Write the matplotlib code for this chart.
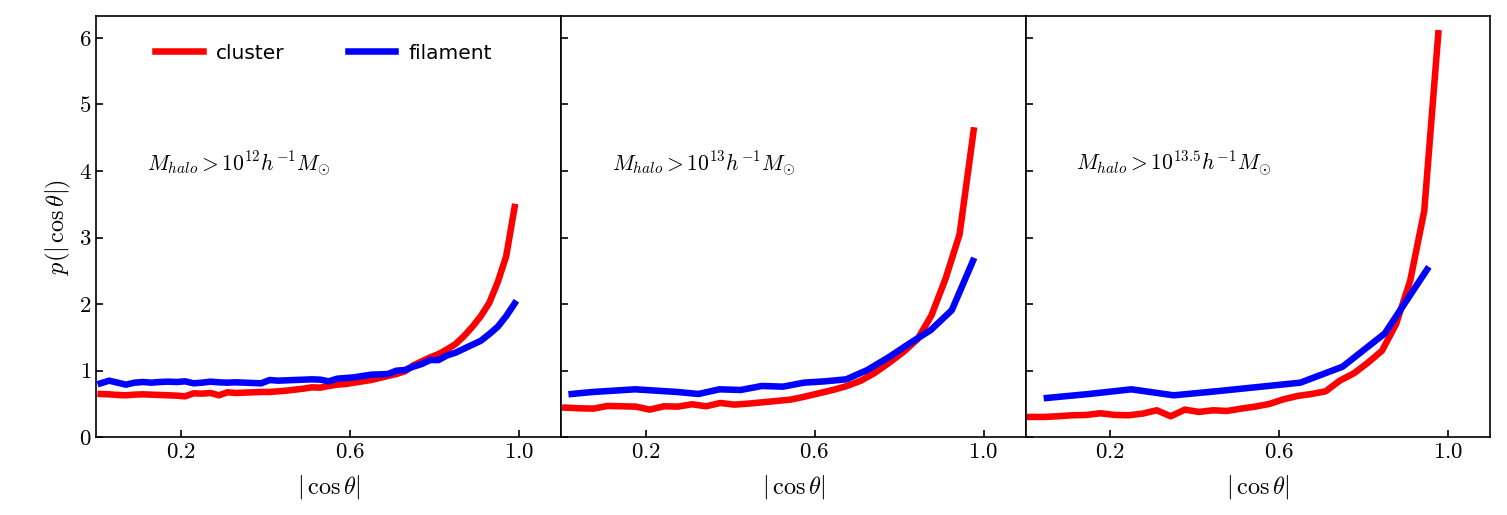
import matplotlib
matplotlib.use("Agg")
import matplotlib.pyplot as plt
import numpy as np

plt.rcParams["font.family"] = "serif"
plt.rcParams["font.serif"] = ["cmr10"]
plt.rcParams["mathtext.fontset"] = "cm"
plt.rcParams["axes.formatter.use_mathtext"] = True

# panel 1: M_halo > 10^12
x1 = np.arange(50) * 0.02 + 0.01
cluster1 = [0.65, 0.645, 0.635, 0.63, 0.64, 0.645, 0.64, 0.635, 0.63, 0.625,
            0.615, 0.66, 0.655, 0.665, 0.63, 0.675, 0.665, 0.67, 0.675, 0.68,
            0.68, 0.69, 0.70, 0.715, 0.73, 0.75, 0.745, 0.77, 0.79, 0.80,
            0.82, 0.84, 0.86, 0.89, 0.92, 0.95, 0.99, 1.08, 1.14, 1.20,
            1.25, 1.32, 1.40, 1.52, 1.66, 1.82, 2.02, 2.33, 2.72, 3.46]
filament1 = [0.81, 0.85, 0.82, 0.79, 0.82, 0.83, 0.82, 0.83, 0.835, 0.83,
             0.84, 0.81, 0.82, 0.835, 0.825, 0.82, 0.825, 0.82, 0.815, 0.81,
             0.86, 0.85, 0.855, 0.86, 0.865, 0.87, 0.865, 0.84, 0.88, 0.89,
             0.90, 0.92, 0.94, 0.945, 0.95, 1.00, 1.01, 1.06, 1.10, 1.16,
             1.16, 1.23, 1.27, 1.33, 1.39, 1.45, 1.55, 1.66, 1.82, 2.01]

# panel 2: M_halo > 10^13
x2_cluster = np.arange(30) / 30 + 0.01
cluster2 = [0.445, 0.435, 0.43, 0.47, 0.465, 0.46, 0.415, 0.465, 0.46, 0.495,
            0.465, 0.515, 0.49, 0.505, 0.525, 0.545, 0.565, 0.61, 0.66, 0.71,
            0.77, 0.85, 0.97, 1.12, 1.28, 1.47, 1.83, 2.38, 3.05, 4.61]
x2_filament = np.arange(20) * 0.05 + 0.025
filament2 = [0.65, 0.68, 0.70, 0.72, 0.70, 0.68, 0.65, 0.72, 0.71, 0.77,
             0.76, 0.82, 0.84, 0.87, 1.01, 1.20, 1.41, 1.61, 1.91, 2.65]

# panel 3: M_halo > 10^13.5
x3_cluster = np.arange(30) / 30 + 0.01
cluster3 = [0.305, 0.305, 0.315, 0.33, 0.335, 0.36, 0.335, 0.33, 0.355, 0.405,
            0.315, 0.415, 0.38, 0.405, 0.395, 0.43, 0.46, 0.50, 0.57, 0.62,
            0.65, 0.69, 0.85, 0.96, 1.12, 1.30, 1.70, 2.35, 3.40, 6.07]
x3_filament = np.arange(10) * 0.1 + 0.05
filament3 = [0.59, 0.65, 0.72, 0.63, 0.69, 0.755, 0.82, 1.06, 1.56, 2.52]

labels = [r"$M_{halo} > 10^{12} h^{-1} M_{\odot}$",
          r"$M_{halo} > 10^{13} h^{-1} M_{\odot}$",
          r"$M_{halo} > 10^{13.5} h^{-1} M_{\odot}$"]

panels = [
    (x1, cluster1, x1, filament1),
    (x2_cluster, cluster2, x2_filament, filament2),
    (x3_cluster, cluster3, x3_filament, filament3),
]

fig, axes = plt.subplots(1, 3, figsize=(15.07, 5.15), dpi=100, sharey=True)
fig.subplots_adjust(left=0.064, right=0.989, top=0.969, bottom=0.151, wspace=0)

for i, ax in enumerate(axes):
    xc, yc, xf, yf = panels[i]
    ax.plot(xc, yc, color="red", lw=4.7, label="cluster")
    ax.plot(xf, yf, color="blue", lw=4.7, label="filament")
    ax.text(0.12, 4.0, labels[i], fontsize=15.5, va="baseline")
    ax.set_xlim(0, 1.1)
    ax.set_ylim(0, 6.33)
    ax.set_xticks([0.2, 0.6, 1.0])
    ax.set_yticks(range(7))
    ax.tick_params(direction="in", labelsize=16.5, length=5, width=1.2)
    ax.set_xlabel(r"$|\,\cos\theta|$", fontsize=17.5, labelpad=8)
    for s in ax.spines.values():
        s.set_linewidth(1.2)

axes[0].set_ylabel(r"$p(|\,\cos\theta|)$", fontsize=17.5)
axes[0].legend(loc="center left", bbox_to_anchor=(0.105, 0.912), ncol=2,
               frameon=False, borderpad=0, handlelength=2.35,
               handletextpad=0.65, columnspacing=3.15,
               prop={"family": "DejaVu Sans", "size": 14.5})

fig.savefig("out.png", dpi=100)
